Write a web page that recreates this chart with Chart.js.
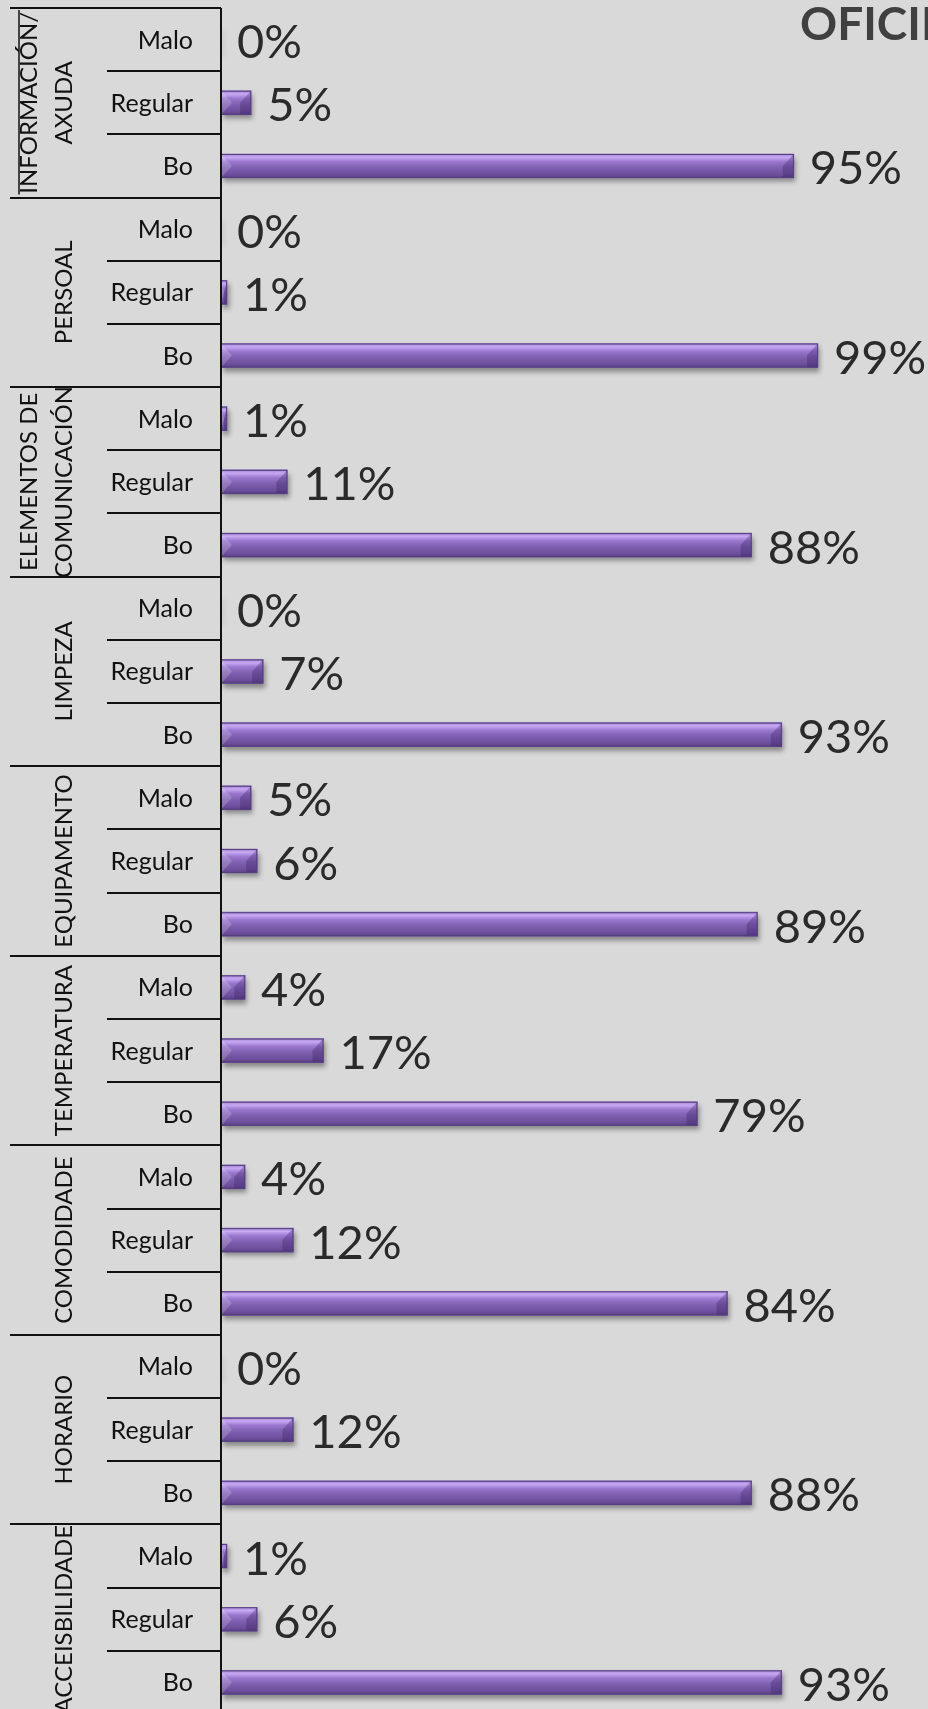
<!DOCTYPE html>
<html lang="gl">
<head>
<meta charset="UTF-8">
<title>Oficina - valoración</title>
<style>
  html, body {
    margin: 0;
    padding: 0;
    background: #d9d9d9;
    overflow: hidden;
  }
  .wrap {
    position: relative;
    width: 928px;
    height: 1714px;
  }
</style>
</head>
<body>
<div class="wrap">
  <canvas id="chart"></canvas>
</div>
<script src="https://cdn.jsdelivr.net/npm/chart.js"></script>
<script>
// survey categories, top to bottom
const groups = [
  ["INFORMACIÓN/", "AXUDA"],
  ["PERSOAL"],
  ["ELEMENTOS DE", "COMUNICACIÓN"],
  ["LIMPEZA"],
  ["EQUIPAMENTO"],
  ["TEMPERATURA"],
  ["COMODIDADE"],
  ["HORARIO"],
  ["ACCEISBILIDADE"],
];
const ratings = ["Malo", "Regular", "Bo"];

// percentages per category
const malo    = [0, 0, 1, 0, 5, 4, 4, 0, 1];
const regular = [5, 1, 11, 7, 6, 17, 12, 12, 6];
const bo      = [95, 99, 88, 93, 89, 79, 84, 88, 93];

const labels = [];
const values = [];
groups.forEach((g, i) => {
  labels.push(...ratings);
  values.push(malo[i], regular[i], bo[i]);
});

const FONT = "Lato, 'Open Sans', sans-serif";
const AXIS_X = 221;

// gray drop shadow under the bars
const shadowPlugin = {
  id: "barShadow",
  beforeDatasetsDraw(chart) {
    const ctx = chart.ctx;
    ctx.save();
    ctx.shadowColor = "rgba(0,0,0,0.38)";
    ctx.shadowBlur = 5;
    ctx.shadowOffsetX = 2;
    ctx.shadowOffsetY = 4;
  },
  afterDatasetsDraw(chart) {
    chart.ctx.restore();
  }
};

// glossy fill, bevelled ends and value labels
const barStylePlugin = {
  id: "barStyle",
  afterDatasetsDraw(chart) {
    const ctx = chart.ctx;
    const meta = chart.getDatasetMeta(0);
    meta.data.forEach((el, i) => {
      const left = el.base;
      const right = el.x;
      const top = el.y - el.height / 2;
      const bottom = el.y + el.height / 2;
      const w = right - left;
      if (w >= 1) {
        const g = ctx.createLinearGradient(0, top, 0, bottom);
        g.addColorStop(0, "#a185d4");
        g.addColorStop(0.14, "#c7a8f3");
        g.addColorStop(0.32, "#9a78cf");
        g.addColorStop(0.55, "#8061b2");
        g.addColorStop(0.85, "#6e4f9d");
        g.addColorStop(1, "#5a3f86");
        ctx.save();
        ctx.fillStyle = g;
        ctx.fillRect(left, top, w, bottom - top);
        const b = Math.min(11, w / 2);
        // left bevel
        ctx.fillStyle = "rgba(255,255,255,0.18)";
        ctx.beginPath();
        ctx.moveTo(left, top);
        ctx.lineTo(left + b, el.y);
        ctx.lineTo(left, bottom);
        ctx.closePath();
        ctx.fill();
        // right bevel
        ctx.fillStyle = "rgba(50,25,90,0.30)";
        ctx.beginPath();
        ctx.moveTo(right, top);
        ctx.lineTo(right - b, el.y);
        ctx.lineTo(right - b, bottom);
        ctx.lineTo(right, bottom);
        ctx.closePath();
        ctx.fill();
        ctx.strokeStyle = "#55407e";
        ctx.lineWidth = 1;
        ctx.strokeRect(left + 0.5, top + 0.5, w - 1, bottom - top - 1);
        ctx.restore();
      }
      ctx.save();
      ctx.font = "47px " + FONT;
      ctx.fillStyle = "#2a2a2a";
      ctx.textAlign = "left";
      ctx.textBaseline = "alphabetic";
      ctx.fillText(values[i] + "%", right + 16, el.y + 18.5);
      ctx.restore();
    });
  }
};

// category boxes, rating names, group names and title
const framePlugin = {
  id: "frame",
  afterDraw(chart) {
    const ctx = chart.ctx;
    const area = chart.chartArea;
    const yScale = chart.scales.y;
    const rowH = (area.bottom - area.top) / labels.length;
    ctx.save();
    ctx.strokeStyle = "#111";
    ctx.lineWidth = 2;
    ctx.beginPath();
    for (let r = 0; r <= labels.length; r++) {
      const ly = Math.round(area.top + r * rowH);
      const x0 = r % 3 === 0 ? 10 : 107;
      ctx.moveTo(x0, ly);
      ctx.lineTo(AXIS_X, ly);
    }
    ctx.moveTo(AXIS_X, area.top);
    ctx.lineTo(AXIS_X, area.bottom);
    ctx.stroke();
    ctx.lineWidth = 1.5;
    ctx.beginPath();
    ctx.moveTo(19, area.top + 2);
    ctx.lineTo(19, area.top + 3 * rowH - 3);
    ctx.stroke();

    // rating names
    ctx.font = "25px " + FONT;
    ctx.fillStyle = "#111";
    ctx.textAlign = "right";
    ctx.textBaseline = "alphabetic";
    labels.forEach((lab, i) => {
      ctx.fillText(lab, 193, yScale.getPixelForValue(i) + 9);
    });

    // rotated group names
    ctx.font = "24px " + FONT;
    ctx.textAlign = "center";
    groups.forEach((g, i) => {
      const cy = area.top + (i * 3 + 1.5) * rowH;
      const cols = g.length === 2 ? [37, 72] : [72];
      g.forEach((line, k) => {
        ctx.save();
        ctx.translate(cols[k], cy);
        ctx.rotate(-Math.PI / 2);
        ctx.fillText(line, 0, 0);
        ctx.restore();
      });
    });

    ctx.font = "bold 46px " + FONT;
    ctx.fillStyle = "#404040";
    ctx.textAlign = "left";
    ctx.fillText("OFICINA", 800, 40);
    ctx.restore();
  }
};

new Chart(document.getElementById("chart"), {
  type: "bar",
  data: {
    labels: labels,
    datasets: [{
      data: values,
      backgroundColor: "#7f5fb0",
      borderWidth: 0,
      barThickness: 24
    }]
  },
  options: {
    indexAxis: "y",
    responsive: true,
    maintainAspectRatio: false,
    animation: false,
    layout: { padding: { top: 8, right: 104, bottom: 0, left: AXIS_X } },
    plugins: {
      legend: { display: false },
      tooltip: { enabled: false }
    },
    scales: {
      x: { display: false, min: 0, max: 100 },
      y: { display: false }
    }
  },
  plugins: [shadowPlugin, barStylePlugin, framePlugin]
});
</script>
</body>
</html>
